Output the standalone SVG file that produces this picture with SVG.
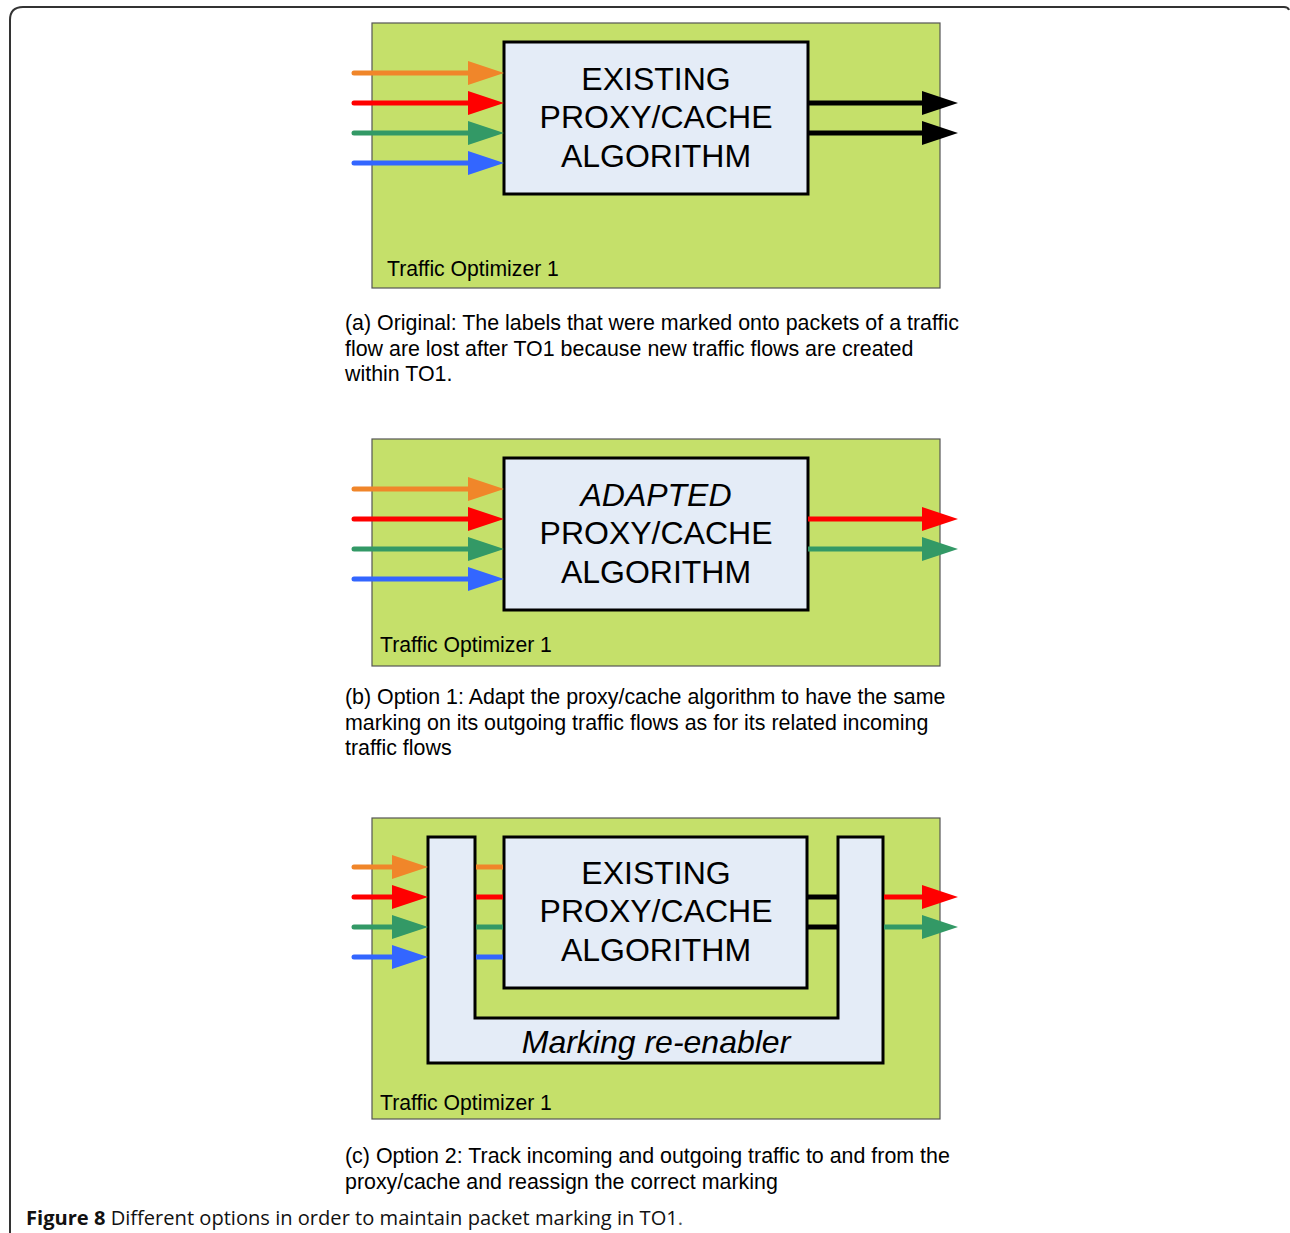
<svg xmlns="http://www.w3.org/2000/svg" width="1290" height="1233" viewBox="0 0 1290 1233">
  <defs>
    <style>
      .frame { fill: none; stroke: #333; stroke-width: 2; }
      .panel { fill: #c5e06a; stroke: #555; stroke-width: 1.2; }
      .box { fill: #e4ecf7; stroke: #000; stroke-width: 3; }
      .big { font-family: "Liberation Sans", Arial, sans-serif; font-size: 32px; fill: #000; text-anchor: middle; }
      .it { font-style: italic; }
      .lbl { font-family: "Liberation Sans", Arial, sans-serif; font-size: 21.2px; fill: #000; }
      .cap { font-family: "Liberation Sans", Arial, sans-serif; font-size: 21.4px; fill: #000; }
      .fig { font-family: "Open Sans", "Liberation Sans", sans-serif; font-size: 20.1px; fill: #111; }
      .ln { stroke-width: 5; fill: none; }
      .rc { stroke-linecap: round; }
      .o { stroke: #f0862a; } .r { stroke: #ff0000; } .g { stroke: #339966; } .b { stroke: #3366ff; } .k { stroke: #000; }
      .ho { fill: #f0862a; } .hr { fill: #ff0000; } .hg { fill: #339966; } .hb { fill: #3366ff; } .hk { fill: #000; }
    </style>
  </defs>

  <!-- page frame -->
  <path class="frame" d="M10,1233 V20 Q10,7 23,7 H1284 Q1288,7 1289,10"/>

  <!-- panel (a) -->
  <g id="panel-a">
    <rect class="panel" x="372" y="23" width="568" height="265"/>
    <text class="lbl" x="387" y="276">Traffic Optimizer 1</text>
  </g>
  <g id="proxy-a">
    <rect class="box" x="504" y="42" width="304" height="152"/>
    <text class="big" x="656" y="90">EXISTING</text>
    <text class="big" x="656" y="128">PROXY/CACHE</text>
    <text class="big" x="656" y="167">ALGORITHM</text>
  </g>

  <!-- panel (b) -->
  <g id="panel-b">
    <rect class="panel" x="372" y="439" width="568" height="227"/>
    <text class="lbl" x="380" y="652">Traffic Optimizer 1</text>
  </g>
  <g id="proxy-b">
    <rect class="box" x="504" y="458" width="304" height="152"/>
    <text class="big it" x="656" y="506">ADAPTED</text>
    <text class="big" x="656" y="544">PROXY/CACHE</text>
    <text class="big" x="656" y="583">ALGORITHM</text>
  </g>

  <!-- panel (c) -->
  <g id="panel-c">
    <rect class="panel" x="372" y="818" width="568" height="301"/>
    <text class="lbl" x="380" y="1110">Traffic Optimizer 1</text>
  </g>
  <g id="re-enabler">
    <path class="box" d="M428,837 H475 V1018 H838 V837 H883 V1063 H428 Z"/>
    <text class="big it" x="656" y="1053">Marking re-enabler</text>
  </g>
  <g id="proxy-c">
    <rect class="box" x="504" y="837" width="303" height="151"/>
    <text class="big" x="656" y="884">EXISTING</text>
    <text class="big" x="656" y="922">PROXY/CACHE</text>
    <text class="big" x="656" y="961">ALGORITHM</text>
  </g>

  <!-- connectors -->
  <g id="connectors">
    <!-- (a) inputs -->
    <line class="ln rc o" x1="354" y1="73" x2="470" y2="73"/><polygon class="ho" points="468,61 504,73 468,85"/>
    <line class="ln rc r" x1="354" y1="103" x2="470" y2="103"/><polygon class="hr" points="468,91 504,103 468,115"/>
    <line class="ln rc g" x1="354" y1="133" x2="470" y2="133"/><polygon class="hg" points="468,121 504,133 468,145"/>
    <line class="ln rc b" x1="354" y1="163" x2="470" y2="163"/><polygon class="hb" points="468,151 504,163 468,175"/>
    <!-- (a) outputs -->
    <line class="ln k" x1="808" y1="103" x2="924" y2="103"/><polygon class="hk" points="922,91 958,103 922,115"/>
    <line class="ln k" x1="808" y1="133" x2="924" y2="133"/><polygon class="hk" points="922,121 958,133 922,145"/>

    <!-- (b) inputs -->
    <line class="ln rc o" x1="354" y1="489" x2="470" y2="489"/><polygon class="ho" points="468,477 504,489 468,501"/>
    <line class="ln rc r" x1="354" y1="519" x2="470" y2="519"/><polygon class="hr" points="468,507 504,519 468,531"/>
    <line class="ln rc g" x1="354" y1="549" x2="470" y2="549"/><polygon class="hg" points="468,537 504,549 468,561"/>
    <line class="ln rc b" x1="354" y1="579" x2="470" y2="579"/><polygon class="hb" points="468,567 504,579 468,591"/>
    <!-- (b) outputs -->
    <line class="ln r" x1="808" y1="519" x2="924" y2="519"/><polygon class="hr" points="922,507 958,519 922,531"/>
    <line class="ln g" x1="808" y1="549" x2="924" y2="549"/><polygon class="hg" points="922,537 958,549 922,561"/>

    <!-- (c) inputs to re-enabler -->
    <line class="ln rc o" x1="354" y1="867" x2="394" y2="867"/><polygon class="ho" points="392,855 428,867 392,879"/>
    <line class="ln rc r" x1="354" y1="897" x2="394" y2="897"/><polygon class="hr" points="392,885 428,897 392,909"/>
    <line class="ln rc g" x1="354" y1="927" x2="394" y2="927"/><polygon class="hg" points="392,915 428,927 392,939"/>
    <line class="ln rc b" x1="354" y1="957" x2="394" y2="957"/><polygon class="hb" points="392,945 428,957 392,969"/>
    <!-- (c) re-enabler to proxy -->
    <line class="ln o" x1="476" y1="867" x2="503" y2="867"/>
    <line class="ln r" x1="476" y1="897" x2="503" y2="897"/>
    <line class="ln g" x1="476" y1="927" x2="503" y2="927"/>
    <line class="ln b" x1="476" y1="957" x2="503" y2="957"/>
    <!-- (c) proxy to re-enabler -->
    <line class="ln k" x1="808" y1="897" x2="837" y2="897"/>
    <line class="ln k" x1="808" y1="927" x2="837" y2="927"/>
    <!-- (c) outputs -->
    <line class="ln r" x1="884" y1="897" x2="924" y2="897"/><polygon class="hr" points="922,885 958,897 922,909"/>
    <line class="ln g" x1="884" y1="927" x2="924" y2="927"/><polygon class="hg" points="922,915 958,927 922,939"/>
  </g>

  <!-- sub-captions -->
  <g id="captions">
    <text class="cap" x="345" y="330">(a) Original: The labels that were marked onto packets of a traffic</text>
    <text class="cap" x="345" y="356">flow are lost after TO1 because new traffic flows are created</text>
    <text class="cap" x="345" y="381">within TO1.</text>
    <text class="cap" x="345" y="704">(b) Option 1: Adapt the proxy/cache algorithm to have the same</text>
    <text class="cap" x="345" y="730">marking on its outgoing traffic flows as for its related incoming</text>
    <text class="cap" x="345" y="755">traffic flows</text>
    <text class="cap" x="345" y="1163">(c) Option 2: Track incoming and outgoing traffic to and from the</text>
    <text class="cap" x="345" y="1189">proxy/cache and reassign the correct marking</text>
  </g>

  <text class="fig" x="26" y="1225"><tspan font-weight="bold">Figure 8</tspan> Different options in order to maintain packet marking in TO1<tspan fill="#555">.</tspan></text>
</svg>
